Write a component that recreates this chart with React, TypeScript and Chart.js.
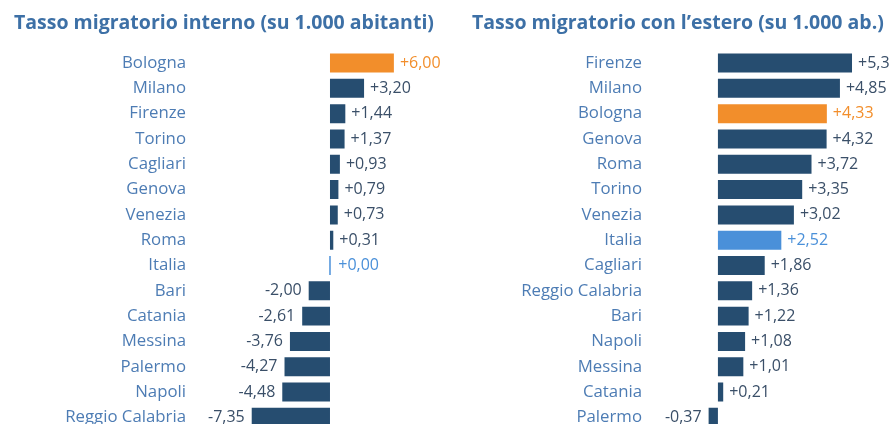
import React, { useEffect, useRef } from "react";
import { Chart, registerables } from "chart.js";

Chart.register(...registerables);

const internalCities = [
  "Bologna", "Milano", "Firenze", "Torino", "Cagliari", "Genova", "Venezia", "Roma",
  "Italia", "Bari", "Catania", "Messina", "Palermo", "Napoli", "Reggio Calabria",
];
const internalRates = [6.0, 3.2, 1.44, 1.37, 0.93, 0.79, 0.73, 0.31, 0.0, -2.0, -2.61, -3.76, -4.27, -4.48, -7.35];

const foreignCities = [
  "Firenze", "Milano", "Bologna", "Genova", "Roma", "Torino", "Venezia", "Italia",
  "Cagliari", "Reggio Calabria", "Bari", "Napoli", "Messina", "Catania", "Palermo",
];
const foreignRates = [5.33, 4.85, 4.33, 4.32, 3.72, 3.35, 3.02, 2.52, 1.86, 1.36, 1.22, 1.08, 1.01, 0.21, -0.37];

const titleInternal = "Tasso migratorio interno (su 1.000 abitanti)";
const titleForeign = "Tasso migratorio con l\u2019estero (su 1.000 ab.)";

const FONT = "'Open Sans', sans-serif";
const DARK = "#264d70";
const ORANGE = "#f28e2b";
const LIGHT = "#4a90d9";
const LABEL_DARK = "#3a4f68";

function barColor(city: string) {
  if (city === "Bologna") return ORANGE;
  if (city === "Italia") return LIGHT;
  return DARK;
}
function textColor(city: string) {
  if (city === "Bologna") return ORANGE;
  if (city === "Italia") return LIGHT;
  return LABEL_DARK;
}
function fmt(v: number) {
  return (v >= 0 ? "+" : "-") + Math.abs(v).toFixed(2).replace(".", ",");
}

const valueLabels = {
  id: "valueLabels",
  afterDatasetsDraw(chart: any) {
    const ctx = chart.ctx;
    const meta = chart.getDatasetMeta(0);
    const labels = chart.data.labels as string[];
    const data = chart.data.datasets[0].data as number[];
    ctx.save();
    ctx.font = `16px ${FONT}`;
    ctx.textBaseline = "middle";
    meta.data.forEach((el: any, i: number) => {
      const v = data[i];
      const props = el.getProps(["x", "y", "base"], true);
      ctx.fillStyle = textColor(labels[i]);
      if (v >= 0) {
        ctx.textAlign = "left";
        ctx.fillText(fmt(v), Math.max(props.x, props.base + 1.5) + 6, props.y);
      } else {
        ctx.textAlign = "right";
        ctx.fillText(fmt(v), props.x - 7, props.y);
      }
    });
    ctx.restore();
  },
};

type PanelProps = {
  labels: string[];
  values: number[];
  title: string;
  xMin: number;
  xMax: number;
  padLeft: number;
  axisWidth: number;
  width: number;
  left: number;
};

function Panel({ labels, values, title, xMin, xMax, padLeft, axisWidth, width, left }: PanelProps) {
  const ref = useRef<HTMLCanvasElement | null>(null);
  useEffect(() => {
    if (!ref.current) return;
    const chart = new Chart(ref.current, {
      type: "bar",
      data: {
        labels,
        datasets: [
          {
            data: values,
            backgroundColor: labels.map(barColor),
            borderWidth: 0,
            minBarLength: 1.5,
            barPercentage: 0.75,
            categoryPercentage: 1,
          },
        ],
      },
      options: {
        indexAxis: "y",
        responsive: false,
        animation: false,
        devicePixelRatio: 1,
        layout: { padding: { left: padLeft, right: 0, top: 0, bottom: 0 } },
        plugins: {
          legend: { display: false },
          tooltip: { enabled: false },
          title: {
            display: true,
            text: title,
            align: "start",
            color: "#3d70a6",
            font: { family: FONT, size: 19.5, weight: "bold" },
            padding: { top: 11.3, bottom: 15.7 },
          },
        },
        scales: {
          x: {
            display: false,
            min: xMin,
            max: xMax,
          },
          y: {
            grid: { display: false, drawTicks: false },
            border: { display: false },
            ticks: {
              padding: 8,
              color: "#4d7cb4",
              font: { family: FONT, size: 16.8 },
              autoSkip: false,
            },
            afterFit(scale: any) {
              scale.width = axisWidth;
              scale.paddingTop = 0;
              scale.paddingBottom = 0;
            },
          },
        },
      },
      plugins: [valueLabels],
    });
    return () => chart.destroy();
  }, []);
  return (
    <canvas
      ref={ref}
      width={width}
      height={430}
      style={{ position: "absolute", left, top: 0, width, height: 430, display: "block" }}
    />
  );
}

export default function App() {
  return (
    <div
      style={{
        position: "fixed",
        left: 0,
        top: 0,
        width: 890,
        height: 424,
        overflow: "hidden",
        background: "#ffffff",
      }}
    >
      <Panel
        labels={internalCities}
        values={internalRates}
        title={titleInternal}
        xMin={-12.77}
        xMax={11.27}
        padLeft={14}
        axisWidth={180}
        width={450}
        left={0}
      />
      <Panel
        labels={foreignCities}
        values={foreignRates}
        title={titleForeign}
        xMin={-2.7}
        xMax={6.84}
        padLeft={22}
        axisWidth={178}
        width={440}
        left={450}
      />
    </div>
  );
}
